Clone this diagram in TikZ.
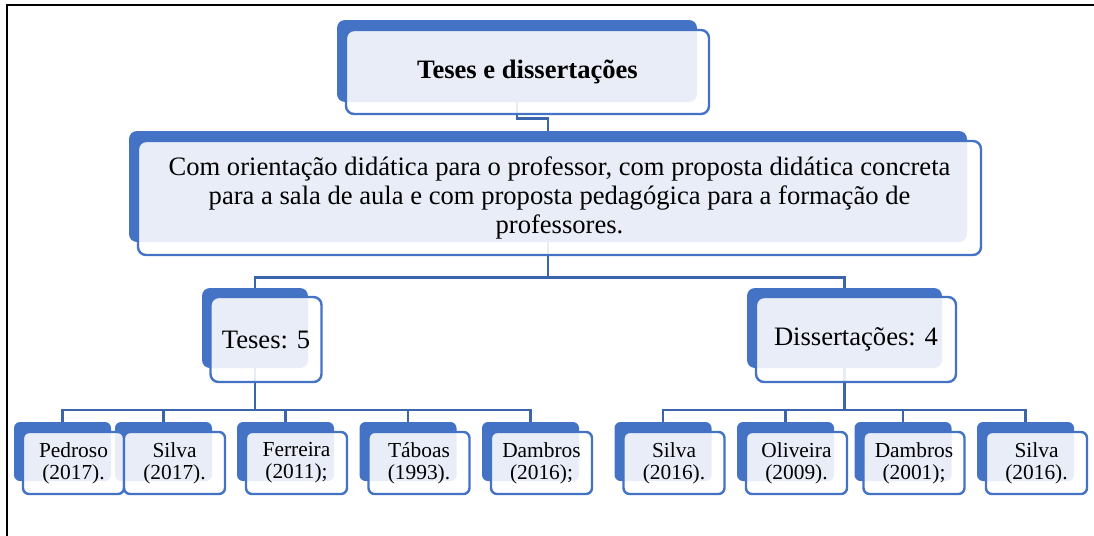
\documentclass[tikz,border=0pt]{standalone}
\usepackage{fontspec}
\setmainfont{Liberation Serif}
\definecolor{boxblue}{HTML}{4472C4}
\definecolor{lineblue}{HTML}{3B64AD}

\begin{document}
\begin{tikzpicture}[x=0.5pt,y=-0.5pt,
  back/.style={fill=boxblue,rounded corners=4pt,inner sep=0pt},
  front/.style={draw=boxblue,line width=1.2pt,fill=white,fill opacity=0.88,text opacity=1,rounded corners=4pt,inner sep=0pt,align=center},
  conn/.style={draw=lineblue,line width=1.1pt},
  big/.style={font=\fontsize{13.3}{14.5}\selectfont},
  kidback/.style={back,rounded corners=3pt,minimum width=48.5pt,minimum height=29.5pt},
  kidfront/.style={front,rounded corners=3pt,minimum width=50.5pt,minimum height=31pt,font=\fontsize{10.7}{11}\selectfont}]
\useasboundingbox (0,0) rectangle (1094,536);
\draw[line width=1pt] (7,536) -- (7,5) -- (1094,5);

% blue shapes behind
\node[back,minimum width=180pt,minimum height=41pt] (top) at (517,61) {};
\node[back,minimum width=419pt,minimum height=55.5pt] (mid) at (548,186.5) {};
\node[back,minimum width=53pt,minimum height=40pt] (teses) at (255,328) {};
\node[back,minimum width=97.5pt,minimum height=40pt] (diss) at (844.5,328) {};
\node[kidback] (pedroso) at (62.5,451.5) {};
\node[kidback] (silvaa) at (163.5,451.5) {};
\node[kidback] (ferreira) at (285.5,451.5) {};
\node[kidback] (taboas) at (408,451.5) {};
\node[kidback] (dambrosa) at (530.5,451.5) {};
\node[kidback] (silvab) at (663,451.5) {};
\node[kidback] (oliveira) at (785.5,451.5) {};
\node[kidback] (dambrosb) at (903,451.5) {};
\node[kidback] (silvac) at (1025.5,451.5) {};

% connectors
\draw[conn] (top.south) -- ++(0,16) -| (mid.north);
\draw[conn] (mid.south) -- ++(0,35) -| (teses.north);
\draw[conn] (mid.south) -- ++(0,35) -| (diss.north);
\draw[conn] (teses.south) -- ++(0,41.5) -| (pedroso.north);
\draw[conn] (teses.south) -- ++(0,41.5) -| (silvaa.north);
\draw[conn] (teses.south) -- ++(0,41.5) -| (ferreira.north);
\draw[conn] (teses.south) -- ++(0,41.5) -| (taboas.north);
\draw[conn] (teses.south) -- ++(0,41.5) -| (dambrosa.north);
\draw[conn] (diss.south) -- ++(0,41.5) -| (silvab.north);
\draw[conn] (diss.south) -- ++(0,41.5) -| (oliveira.north);
\draw[conn] (diss.south) -- ++(0,41.5) -| (dambrosb.north);
\draw[conn] (diss.south) -- ++(0,41.5) -| (silvac.north);

% text boxes in front
\node[front,big,minimum width=181.5pt,minimum height=42pt] (topf) at ([shift={(10.5,11)}]top) {\textbf{Teses e dissertações}};
\node[front,big,minimum width=421.5pt,minimum height=57pt] (midf) at ([shift={(11.5,11.5)}]mid) {Com orientação didática para o professor, com proposta didática concreta\\para a sala de aula e com proposta pedagógica para a formação de\\professores.};
\node[front,big,minimum width=55.5pt,minimum height=42.5pt] (tesesf) at ([shift={(11,11.5)}]teses) {Teses: 5};
\node[front,big,minimum width=100pt,minimum height=42.5pt] (dissf) at ([shift={(11.5,11.5)}]diss) {Dissertações: 4};
\node[kidfront] (pedrosof) at ([shift={(11,11.5)}]pedroso) {Pedroso\\(2017).};
\node[kidfront] (silvaaf) at ([shift={(11,11.5)}]silvaa) {Silva\\(2017).};
\node[kidfront] (ferreiraf) at ([shift={(11,11.5)}]ferreira) {Ferreira\\(2011);};
\node[kidfront] (taboasf) at ([shift={(11,11.5)}]taboas) {Táboas\\(1993).};
\node[kidfront] (dambrosaf) at ([shift={(11,11.5)}]dambrosa) {Dambros\\(2016);};
\node[kidfront] (silvabf) at ([shift={(11,11.5)}]silvab) {Silva\\(2016).};
\node[kidfront] (oliveiraf) at ([shift={(11,11.5)}]oliveira) {Oliveira\\(2009).};
\node[kidfront] (dambrosbf) at ([shift={(11,11.5)}]dambrosb) {Dambros\\(2001);};
\node[kidfront] (silvacf) at ([shift={(11,11.5)}]silvac) {Silva\\(2016).};
\end{tikzpicture}
\end{document}
